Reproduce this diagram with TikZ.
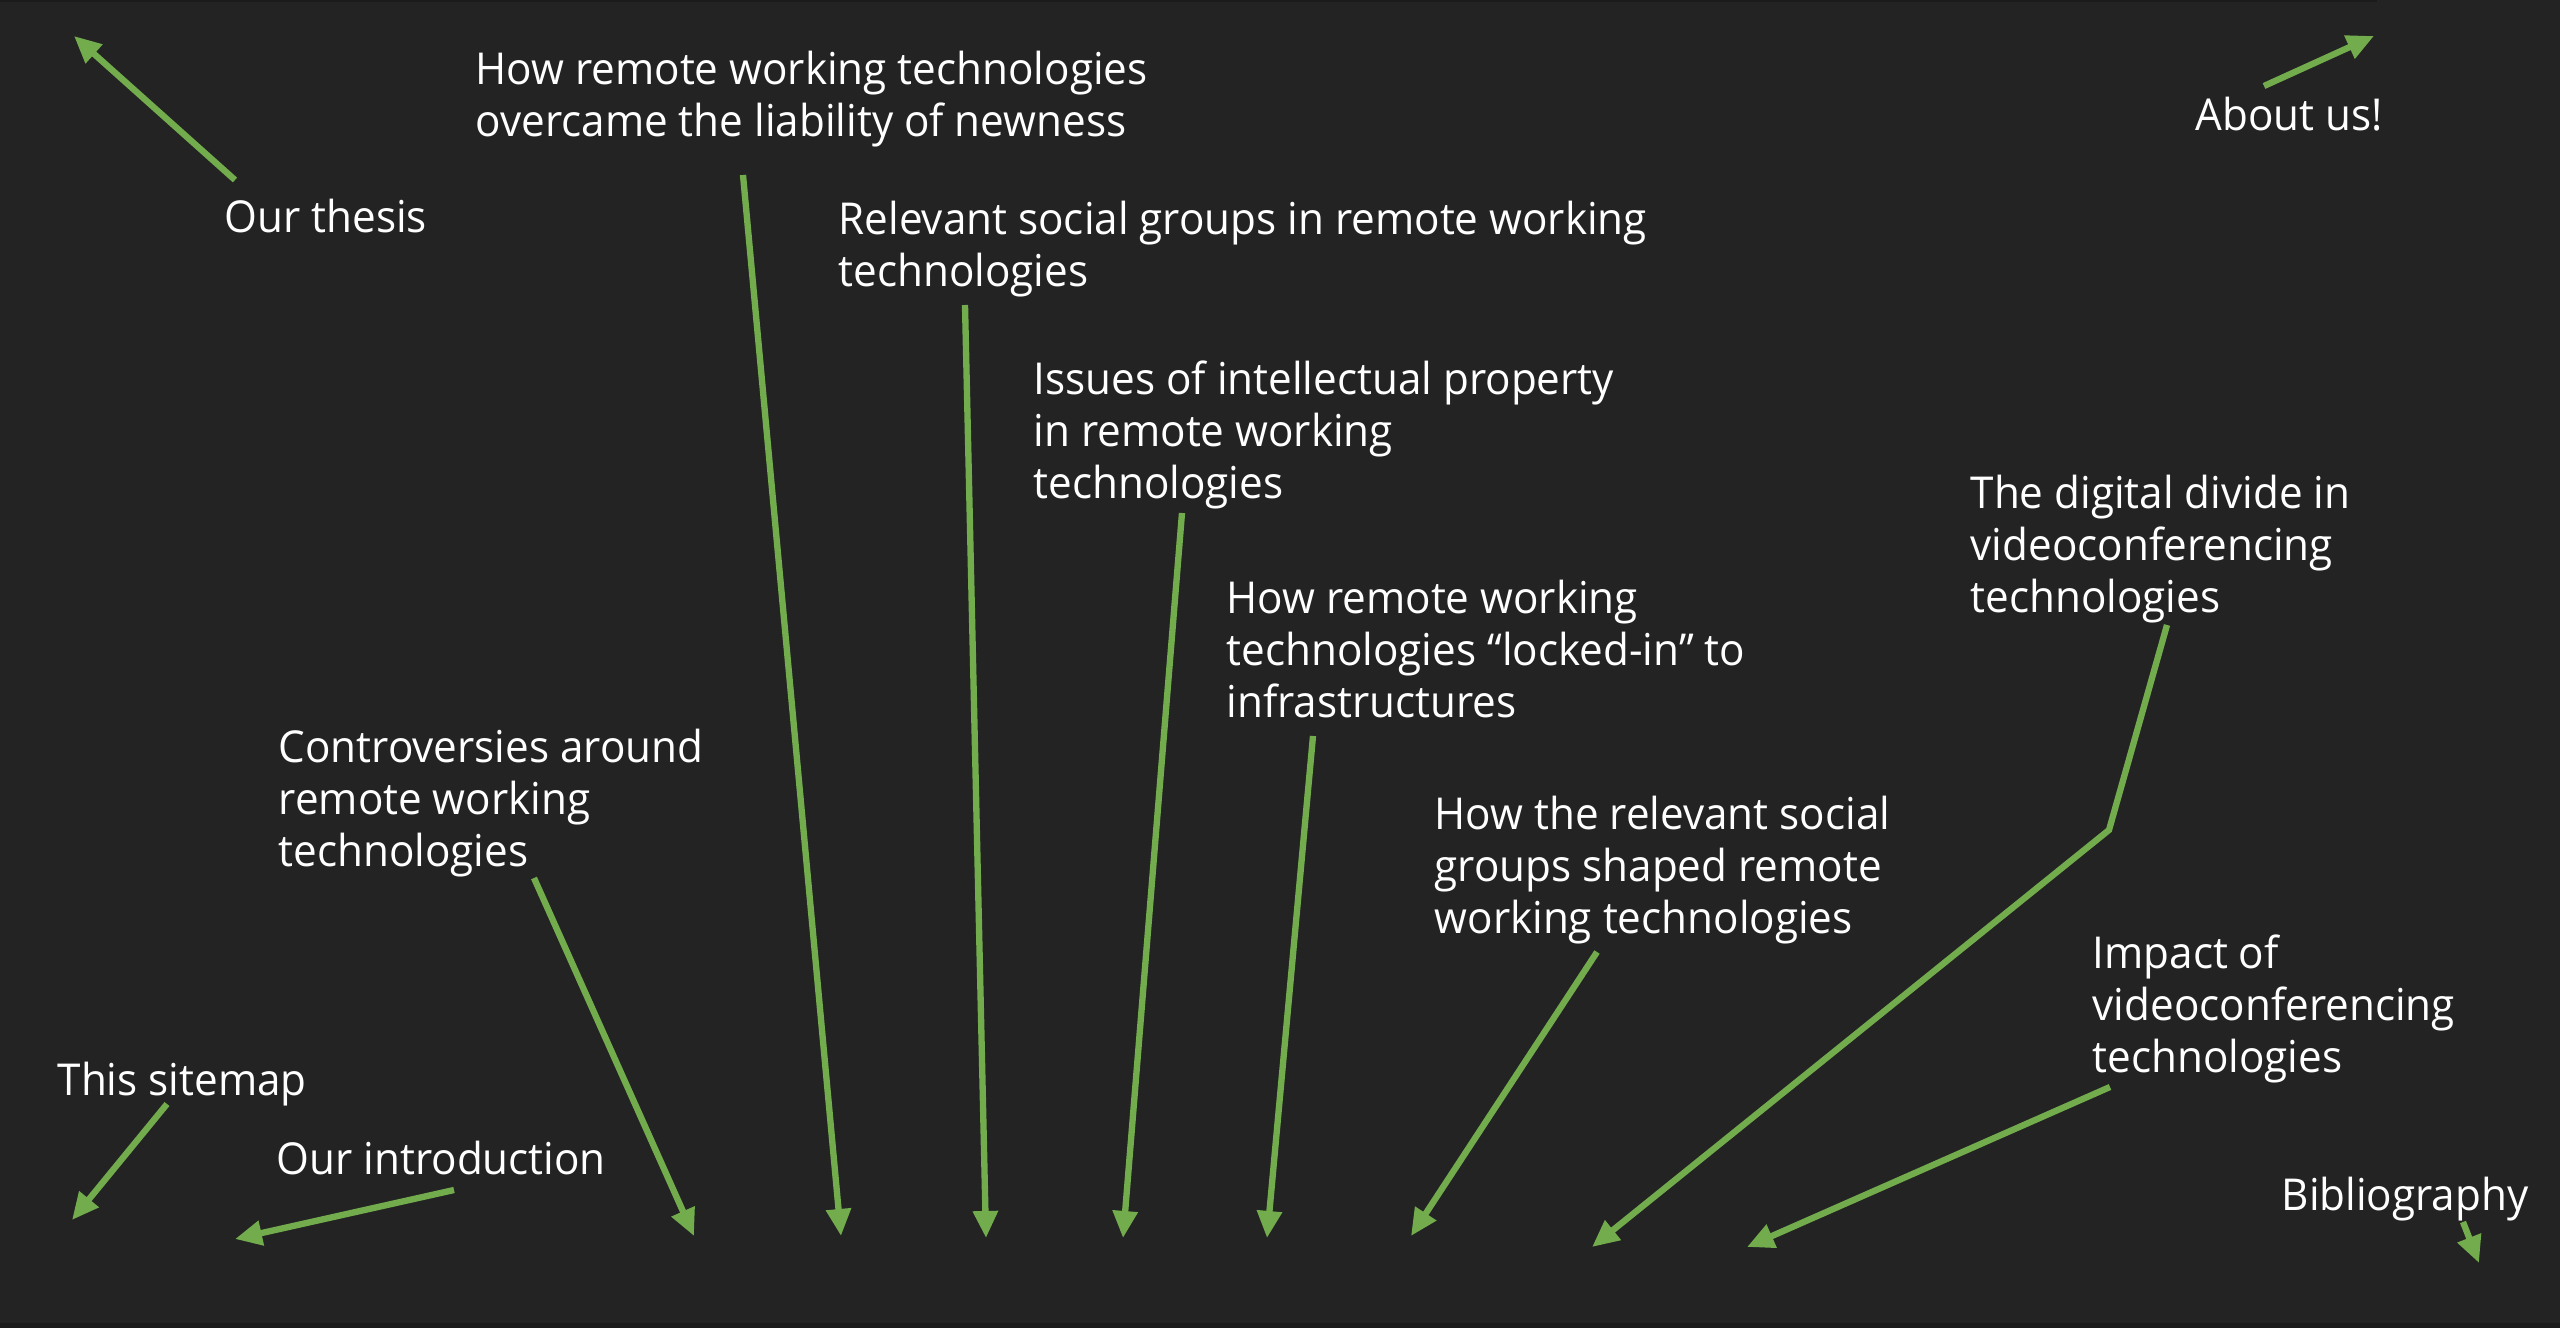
\documentclass[tikz,border=0pt]{standalone}
\usepackage{fontspec}
\setmainfont{Open Sans}[FakeStretch=0.96]
\usetikzlibrary{arrows.meta}
\definecolor{bgdark}{HTML}{232323}
\definecolor{edgedark}{HTML}{1B1B1B}
\definecolor{mapgreen}{RGB}{114,172,77}
\tikzset{
  lbl/.style={anchor=north west,inner sep=0pt,align=left,text=white,font=\fontsize{12.5}{14.8}\selectfont},
  arr/.style={draw=mapgreen,line width=1.8pt,-{Triangle[length=0.27cm,width=0.24cm]}}
}
\begin{document}
\begin{tikzpicture}[x=0.01cm,y=-0.01cm]
% sitemap: labels with arrows pointing to the links
\useasboundingbox (0,0) rectangle (2560,1328);
\fill[bgdark] (0,0) rectangle (2560,1328);
\fill[edgedark] (0,0) rectangle (2377,2);
\fill[edgedark] (0,1323) rectangle (2560,1328);

\node[lbl] (thesis) at (224,198) {Our thesis};
\node[lbl] (newness) at (475,50) {How remote working technologies\\overcame the liability of newness};
\node[lbl] (aboutus) at (2195,96) {About us!};
\node[lbl] (groups) at (838,200) {Relevant social groups in remote working\\technologies};
\node[lbl] (ip) at (1033,360) {Issues of intellectual property\\in remote working\\technologies};
\node[lbl] (divide) at (1970,474) {The digital divide in\\videoconferencing\\technologies};
\node[lbl] (lockin) at (1226,579) {How remote working\\technologies “locked-in” to\\infrastructures};
\node[lbl] (controv) at (278,728) {Controversies around\\remote working\\technologies};
\node[lbl] (shaped) at (1434,795) {How the relevant social\\groups shaped remote\\working technologies};
\node[lbl] (impact) at (2092,934) {Impact of\\videoconferencing\\technologies};
\node[lbl] (sitemap) at (57,1061) {This sitemap};
\node[lbl] (intro) at (276,1140) {Our introduction};
\node[lbl] (biblio) at (2281,1176) {Bibliography};

% arrow tips
\coordinate (thesis-tip) at (74,36);
\coordinate (newness-tip) at (841,1236);
\coordinate (aboutus-tip) at (2374,36);
\coordinate (groups-tip) at (986,1238);
\coordinate (ip-tip) at (1123,1238);
\coordinate (lockin-tip) at (1267,1238);
\coordinate (controv-tip) at (694,1236);
\coordinate (shaped-tip) at (1411,1236);
\coordinate (impact-tip) at (1747,1247);
\coordinate (sitemap-tip) at (72,1220);
\coordinate (intro-tip) at (235,1239);
\coordinate (biblio-tip) at (2479,1263);
\coordinate (divide-bend) at (2109,830);
\coordinate (divide-tip) at (1592,1247);

\foreach \n/\dx/\dy in {thesis/11/-18,newness/268/125,aboutus/69/-10,groups/127/105,ip/149/153,lockin/87/157,controv/256/150,shaped/163/157,impact/18/153,sitemap/110/43,intro/178/50,biblio/182/46}
  {\draw[arr] ([shift={(\dx,\dy)}]\n.north west) -- (\n-tip);}
\draw[arr] ([shift={(197,151)}]divide.north west) -- (divide-bend) -- (divide-tip);
\end{tikzpicture}
\end{document}
